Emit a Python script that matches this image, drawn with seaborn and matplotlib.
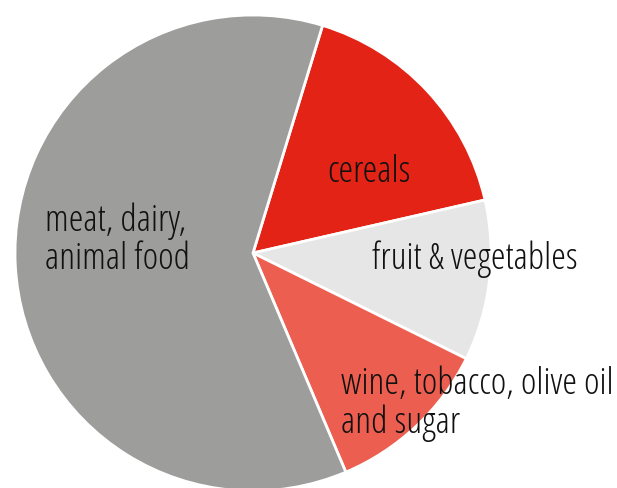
import matplotlib
matplotlib.use("Agg")
import os
import matplotlib.pyplot as plt
from matplotlib import font_manager as fm
import seaborn as sns

categories = ["cereals", "fruit & vegetables", "wine, tobacco, olive oil\nand sugar", "meat, dairy,\nanimal food"]
values = [16.7, 10.9, 11.3, 61.1]
colors = ["#e32315", "#e6e6e6", "#ec5f50", "#9d9d9c"]

sns.set_style("white")
plt.rcParams["font.family"] = ["Open Sans", "DejaVu Sans"]

# look for an installed Open Sans Condensed face
def pick_font():
    prefs = []
    for f in fm.fontManager.ttflist:
        n = os.path.basename(f.fname or "").lower()
        if "cond" not in n and "narrow" not in n:
            continue
        if ("italic" in n or "oblique" in n or "bold" in n or "black" in n
                or "extra" in n or "ultra" in n or "thin" in n):
            continue
        score = 0
        if "open" in n:
            score += 4
        if "noto" in n and "sans" in n and "mono" not in n:
            score += 3
        if "liberation" in n:
            score += 3
        if "semi" in n:
            score -= 1
        if "light" in n:
            score += 1
        if "medium" in n:
            score -= 1
        prefs.append((score, f.fname))
    if prefs:
        prefs.sort(reverse=True)
        return fm.FontProperties(fname=prefs[0][1])
    return fm.FontProperties(family=["Open Sans", "DejaVu Sans"])

fp = pick_font()

fig = plt.figure(figsize=(6.17, 4.89), dpi=100)
ax = fig.add_axes([0, 0, 1, 1])
ax.pie(values, colors=colors, startangle=73, counterclock=False, radius=1.0,
       wedgeprops=dict(edgecolor="white", linewidth=2))

R = 238.0
cx, cy = 253.0, 254.0
ax.set_xlim(-cx / R, (617 - cx) / R)
ax.set_ylim(-(489 - cy) / R, cy / R)
ax.set_aspect("auto")
ax.axis("off")

# size the font so that "fruit & vegetables" spans ~205 px as in the reference
probe = fig.text(0, 0, categories[1], fontproperties=fp, fontsize=20)
w = probe.get_window_extent(renderer=fig.canvas.get_renderer()).width
probe.remove()
fs = 20 * 205.0 / w

def px(x, y):
    return (x - cx) / R, (cy - y) / R

tc = "#111111"
x, y = px(369, 173)
ax.text(x, y, categories[0], ha="center", va="center", fontproperties=fp, fontsize=fs, color=tc)
x, y = px(372, 259)
ax.text(x, y, categories[1], ha="left", va="center", fontproperties=fp, fontsize=fs, color=tc)
x, y = px(341, 404)
ax.text(x, y, categories[2], ha="left", va="center", fontproperties=fp, fontsize=fs, color=tc, linespacing=1.05)
x, y = px(45, 240)
ax.text(x, y, categories[3], ha="left", va="center", fontproperties=fp, fontsize=fs, color=tc, linespacing=1.05)

fig.savefig("out.png", dpi=100)
